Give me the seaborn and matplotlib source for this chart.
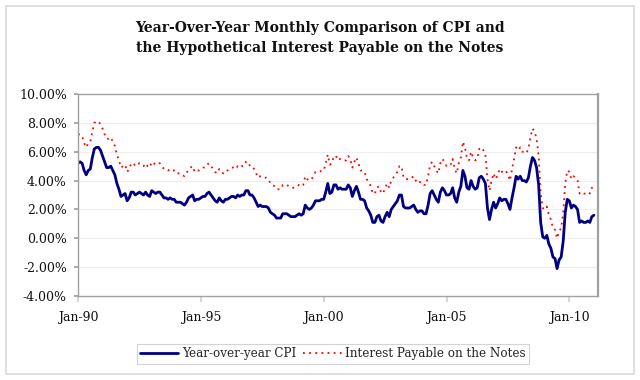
import matplotlib
matplotlib.use("Agg")
import matplotlib.pyplot as plt
import seaborn as sns
import numpy as np
import pandas as pd
from matplotlib.ticker import FuncFormatter, FixedLocator
from matplotlib.patches import Rectangle

# Monthly values, Jan-1990 .. Jan-2011 (percent)
cpi = [
    5.2, 5.3, 5.2, 4.7, 4.4, 4.7, 4.8, 5.6, 6.2, 6.3, 6.3, 6.1,   # 1990
    5.7, 5.3, 4.9, 4.9, 5.0, 4.7, 4.4, 3.8, 3.4, 2.9, 3.0, 3.1,   # 1991
    2.6, 2.8, 3.2, 3.2, 3.0, 3.1, 3.2, 3.1, 3.0, 3.2, 3.0, 2.9,   # 1992
    3.3, 3.2, 3.1, 3.2, 3.2, 3.0, 2.8, 2.8, 2.7, 2.8, 2.7, 2.7,   # 1993
    2.5, 2.5, 2.5, 2.4, 2.3, 2.5, 2.8, 2.9, 3.0, 2.6, 2.7, 2.7,   # 1994
    2.8, 2.9, 2.9, 3.1, 3.2, 3.0, 2.8, 2.6, 2.5, 2.8, 2.6, 2.5,   # 1995
    2.7, 2.7, 2.8, 2.9, 2.9, 2.8, 3.0, 2.9, 3.0, 3.0, 3.3, 3.3,   # 1996
    3.0, 3.0, 2.8, 2.5, 2.2, 2.3, 2.2, 2.2, 2.2, 2.1, 1.8, 1.7,   # 1997
    1.6, 1.4, 1.4, 1.4, 1.7, 1.7, 1.7, 1.6, 1.5, 1.5, 1.5, 1.6,   # 1998
    1.7, 1.6, 1.7, 2.3, 2.1, 2.0, 2.1, 2.3, 2.6, 2.6, 2.6, 2.7,   # 1999
    2.7, 3.2, 3.8, 3.1, 3.2, 3.7, 3.7, 3.4, 3.5, 3.4, 3.4, 3.4,   # 2000
    3.7, 3.5, 2.9, 3.3, 3.6, 3.2, 2.7, 2.7, 2.6, 2.1, 1.9, 1.6,   # 2001
    1.1, 1.1, 1.5, 1.6, 1.2, 1.1, 1.5, 1.8, 1.5, 2.0, 2.2, 2.4,   # 2002
    2.6, 3.0, 3.0, 2.2, 2.1, 2.1, 2.1, 2.2, 2.3, 2.0, 1.8, 1.9,   # 2003
    1.9, 1.7, 1.7, 2.3, 3.1, 3.3, 3.0, 2.7, 2.5, 3.2, 3.5, 3.3,   # 2004
    3.0, 3.0, 3.1, 3.5, 2.8, 2.5, 3.2, 3.6, 4.7, 4.3, 3.5, 3.4,   # 2005
    4.0, 3.6, 3.4, 3.5, 4.2, 4.3, 4.1, 3.8, 2.1, 1.3, 2.0, 2.5,   # 2006
    2.1, 2.4, 2.8, 2.6, 2.7, 2.7, 2.4, 2.0, 2.8, 3.5, 4.3, 4.1,   # 2007
    4.3, 4.0, 4.0, 3.9, 4.2, 5.0, 5.6, 5.4, 4.9, 3.7, 1.1, 0.1,   # 2008
    0.0, 0.2, -0.4, -0.7, -1.3, -1.4, -2.1, -1.5, -1.3, -0.2, 1.8, 2.7,  # 2009
    2.6, 2.1, 2.3, 2.2, 2.0, 1.1, 1.2, 1.1, 1.1, 1.2, 1.1, 1.5,   # 2010
    1.6,                                                          # 2011
]

interest = [
    7.2, 7.2, 7.1, 6.6, 6.3, 6.6, 6.7, 7.4, 8.0, 8.1, 8.1, 7.9,   # 1990
    7.6, 7.2, 6.9, 6.9, 7.0, 6.7, 6.4, 5.8, 5.4, 4.9, 5.0, 5.1,   # 1991
    4.6, 4.8, 5.2, 5.2, 5.0, 5.1, 5.2, 5.1, 5.0, 5.2, 5.0, 4.9,   # 1992
    5.3, 5.2, 5.1, 5.2, 5.2, 5.0, 4.8, 4.8, 4.7, 4.8, 4.7, 4.7,   # 1993
    4.5, 4.5, 4.5, 4.4, 4.3, 4.5, 4.8, 4.9, 5.0, 4.6, 4.7, 4.7,   # 1994
    4.8, 4.9, 4.9, 5.1, 5.2, 5.0, 4.8, 4.6, 4.5, 4.8, 4.6, 4.5,   # 1995
    4.7, 4.7, 4.8, 4.9, 4.9, 4.8, 5.0, 4.9, 5.0, 5.0, 5.3, 5.3,   # 1996
    5.0, 5.0, 4.8, 4.5, 4.2, 4.3, 4.2, 4.2, 4.2, 4.1, 3.8, 3.7,   # 1997
    3.6, 3.4, 3.4, 3.4, 3.7, 3.7, 3.7, 3.6, 3.5, 3.5, 3.5, 3.6,   # 1998
    3.7, 3.6, 3.7, 4.3, 4.1, 4.0, 4.1, 4.3, 4.6, 4.6, 4.6, 4.7,   # 1999
    4.7, 5.2, 5.8, 5.1, 5.2, 5.7, 5.7, 5.4, 5.5, 5.4, 5.4, 5.4,   # 2000
    5.7, 5.5, 4.9, 5.3, 5.6, 5.2, 4.7, 4.7, 4.6, 4.1, 3.9, 3.6,   # 2001
    3.1, 3.1, 3.5, 3.6, 3.2, 3.1, 3.5, 3.8, 3.5, 4.0, 4.2, 4.4,   # 2002
    4.6, 5.0, 5.0, 4.2, 4.1, 4.1, 4.1, 4.2, 4.3, 4.0, 3.8, 3.9,   # 2003
    3.9, 3.7, 3.7, 4.3, 5.1, 5.3, 5.0, 4.7, 4.5, 5.2, 5.5, 5.3,   # 2004
    5.0, 5.0, 5.1, 5.5, 4.8, 4.5, 5.2, 5.6, 6.7, 6.3, 5.5, 5.4,   # 2005
    6.0, 5.6, 5.4, 5.5, 6.2, 6.3, 6.1, 5.8, 4.1, 3.3, 4.0, 4.5,   # 2006
    4.1, 4.4, 4.8, 4.6, 4.7, 4.7, 4.4, 4.0, 4.8, 5.5, 6.3, 6.1,   # 2007
    6.3, 6.0, 6.0, 5.9, 6.2, 7.0, 7.6, 7.4, 6.9, 5.7, 3.1, 2.1,   # 2008
    2.0, 2.2, 1.6, 1.3, 0.7, 0.6, 0.0, 0.5, 0.7, 1.8, 3.8, 4.7,   # 2009
    4.6, 4.1, 4.3, 4.2, 4.0, 3.1, 3.2, 3.1, 3.1, 3.2, 3.1, 3.5,   # 2010
    3.6,                                                          # 2011
]

tick_months = [0, 60, 120, 180, 240]
tick_labels = ["Jan-90", "Jan-95", "Jan-00", "Jan-05", "Jan-10"]
y_ticks = [-4, -2, 0, 2, 4, 6, 8, 10]

title = ("Year-Over-Year Monthly Comparison of CPI and\n"
         "the Hypothetical Interest Payable on the Notes")
label_cpi = "Year-over-year CPI"
label_int = "Interest Payable on the Notes"

sns.set_theme(style="white")
plt.rcParams["font.family"] = ["DejaVu Serif"]

df = pd.DataFrame({"month": np.arange(len(cpi)), "cpi": cpi, "interest": interest})

fig = plt.figure(figsize=(6.4, 3.8), dpi=100)
fig.patch.set_facecolor("white")
ax = fig.add_axes([78 / 640, 1 - 296 / 380, (598 - 78) / 640, (296 - 94) / 380])

sns.lineplot(data=df, x="month", y="interest", ax=ax, color="#ff0000",
             linewidth=1.3, linestyle=(0, (1, 2.4)), label=label_int)
sns.lineplot(data=df, x="month", y="cpi", ax=ax, color="#000080",
             linewidth=2.0, label=label_cpi)

ax.set_xlim(0, 254)
ax.set_ylim(-4, 10)
ax.yaxis.set_major_locator(FixedLocator(y_ticks))
ax.yaxis.set_major_formatter(FuncFormatter(lambda v, p: f"{v:.2f}%"))
ax.xaxis.set_major_locator(FixedLocator(tick_months))
ax.set_xticklabels(tick_labels)
ax.set_xlabel("")
ax.set_ylabel("")

for y in y_ticks[1:-1]:
    ax.axhline(y, color="#eeeeee", linewidth=0.8, zorder=0)

for side in ["top", "left", "right", "bottom"]:
    ax.spines[side].set_visible(True)
    ax.spines[side].set_color("#a0a0a0")
    ax.spines[side].set_linewidth(1.0)
ax.spines["right"].set_linewidth(1.6)

ax.tick_params(axis="y", direction="out", length=3, color="#a0a0a0",
               labelsize=9, pad=5, labelcolor="#111111")
ax.tick_params(axis="x", direction="out", length=4, color="#d0d0d0",
               labelsize=9, pad=7, labelcolor="#111111")
ax.tick_params(left=True, bottom=True)

handles, labels = ax.get_legend_handles_labels()
order = [labels.index(label_cpi), labels.index(label_int)]
ax.get_legend().remove()
leg = fig.legend([handles[i] for i in order], [labels[i] for i in order],
                 loc="center", bbox_to_anchor=(333 / 640, 1 - 354 / 380),
                 ncol=2, fontsize=8.6, frameon=True, fancybox=False,
                 handlelength=3.2, handletextpad=0.3, columnspacing=0.6,
                 borderpad=0.3, borderaxespad=0)
leg.get_frame().set_edgecolor("#c8c8c8")
leg.get_frame().set_linewidth(0.8)

fig.text(0.5, 1 - 38 / 380, title, ha="center", va="center",
         fontsize=10, fontweight="bold", linespacing=1.55, color="#111111")

fig.patches.append(Rectangle((6 / 640, 6 / 380), 628 / 640, 368 / 380,
                             transform=fig.transFigure, fill=False,
                             edgecolor="#d9d9d9", linewidth=1.2))

fig.savefig("out.png", dpi=100, facecolor="white")
